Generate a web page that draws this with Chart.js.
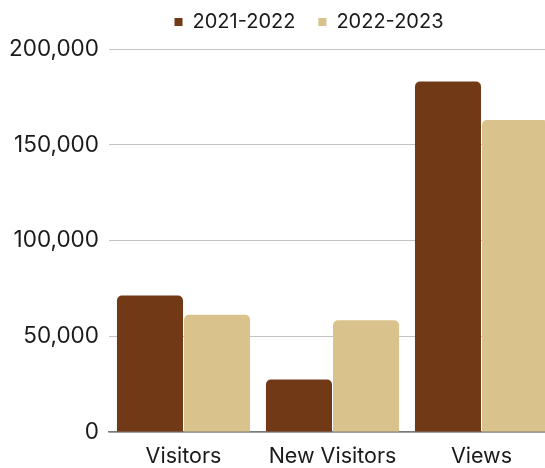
<!DOCTYPE html>
<html>
<head>
<meta charset="utf-8">
<script src="https://cdn.jsdelivr.net/npm/chart.js@4.4.1/dist/chart.umd.min.js"></script>
<style>
  html, body { margin: 0; padding: 0; background: #fff; overflow: hidden; }
  #wrap { position: relative; width: 560px; height: 468px; }
</style>
</head>
<body>
<div id="wrap"><canvas id="visits-chart" width="560" height="468"></canvas></div>
<script>
  const categories = ["Visitors", "New Visitors", "Views"];
  const seriesNames = ["2021-2022", "2022-2023"];
  const visits2021 = [71300, 27400, 183000];
  const visits2022 = [61200, 58300, 162900];
  const yTicks = [0, 50000, 100000, 150000, 200000];

  const fontFamily = "Inter, 'Noto Sans', sans-serif";
  const colors = ["#723917", "#d9c28c"];

  // nudge the legend right and up, like the original
  const legendShift = {
    id: "legendShift",
    afterLayout(chart) {
      const lg = chart.legend;
      lg.left += 31;
      lg.right += 31;
      lg.top -= 7;
      lg.bottom -= 7;
    }
  };

  const ctx = document.getElementById("visits-chart").getContext("2d");
  new Chart(ctx, {
    type: "bar",
    data: {
      labels: categories,
      datasets: [
        {
          label: seriesNames[0],
          data: visits2021,
          backgroundColor: colors[0],
          borderRadius: 5,
          borderSkipped: "bottom"
        },
        {
          label: seriesNames[1],
          data: visits2022,
          backgroundColor: colors[1],
          borderRadius: 5,
          borderSkipped: "bottom"
        }
      ]
    },
    options: {
      responsive: false,
      animation: false,
      categoryPercentage: 0.9,
      barPercentage: 0.985,
      layout: { padding: { top: -4, right: 4, bottom: 0, left: 0 } },
      plugins: {
        legend: {
          position: "top",
          labels: {
            boxWidth: 8,
            boxHeight: 8,
            padding: 23,
            color: "#1a1a1a",
            font: { family: fontFamily, size: 20 }
          }
        },
        tooltip: { enabled: false }
      },
      scales: {
        x: {
          grid: { display: false, drawTicks: false },
          border: { display: true, color: "#7a7a7a", width: 1.5 },
          ticks: {
            padding: 12,
            color: "#1a1a1a",
            font: { family: fontFamily, size: 21.5 }
          },
          afterFit(scale) { scale.height = 36; }
        },
        y: {
          min: yTicks[0],
          max: yTicks[yTicks.length - 1],
          grid: { color: "#c4c4c4", lineWidth: 1, drawTicks: false },
          border: { display: false },
          afterBuildTicks(scale) { scale.ticks = yTicks.map(v => ({ value: v })); },
          ticks: {
            padding: 10,
            color: "#1a1a1a",
            font: { family: fontFamily, size: 22.5 },
            callback: (v) => v.toLocaleString("en-US")
          },
          afterFit(scale) { scale.width = 109; }
        }
      }
    },
    plugins: [legendShift]
  });
</script>
</body>
</html>
